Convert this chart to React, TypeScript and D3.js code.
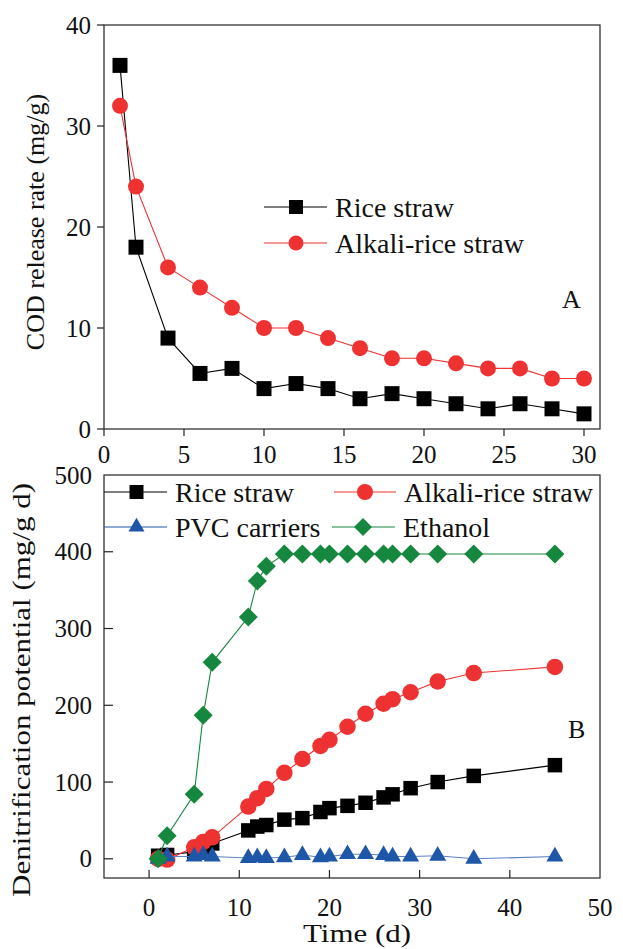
import React from "react";
import * as d3 from "d3";

// ---- Panel A data ----
const daysA = [1, 2, 4, 6, 8, 10, 12, 14, 16, 18, 20, 22, 24, 26, 28, 30];
const riceA = [36, 18, 9, 5.5, 6, 4, 4.5, 4, 3, 3.5, 3, 2.5, 2, 2.5, 2, 1.5];
const alkaliA = [32, 24, 16, 14, 12, 10, 10, 9, 8, 7, 7, 6.5, 6, 6, 5, 5];
const ticksAX = [0, 5, 10, 15, 20, 25, 30];
const ticksAY = [0, 10, 20, 30, 40];

// ---- Panel B data ----
const daysB = [1, 2, 5, 6, 7, 11, 12, 13, 15, 17, 19, 20, 22, 24, 26, 27, 29, 32, 36, 45];
const riceB = [4, 5, 9, 14, 20, 37, 42, 44, 51, 53, 61, 66, 69, 73, 80, 84, 92, 100, 108, 122];
const alkaliB = [0, -1, 15, 22, 28, 68, 79, 91, 112, 130, 147, 155, 172, 189, 202, 208, 217, 231, 242, 250];
const pvcB = [0, 3, 3, 5, 3, 1, 2, 1, 2, 5, 2, 3, 6, 6, 5, 3, 3, 4, 0, 3];
const ethanolB = [0, 30, 84, 187, 256, 315, 362, 381, 397, 397, 397, 397, 397, 397, 397, 397, 397, 397, 397, 397];
const ticksBX = [0, 10, 20, 30, 40, 50];
const ticksBY = [0, 100, 200, 300, 400, 500];

const BLACK = "#000000";
const RED = "#ee3131";
const BLUE = "#1f57a8";
const GREEN = "#16873f";
const FONT = '"Liberation Serif", "Times New Roman", Times, serif';
const TS: React.CSSProperties = { fontFamily: FONT };

type Shape = "square" | "circle" | "triangle" | "diamond";

function Marker({ shape, x, y, s, color }: { shape: Shape; x: number; y: number; s: number; color: string }) {
  let path = "";
  let rot = 0;
  if (shape === "square") path = d3.symbol(d3.symbolSquare, s * s)() as string;
  else if (shape === "circle") path = d3.symbol(d3.symbolCircle, Math.PI * (s / 2) * (s / 2))() as string;
  else if (shape === "triangle") path = d3.symbol(d3.symbolTriangle, (Math.sqrt(3) / 4) * s * s)() as string;
  else {
    path = d3.symbol(d3.symbolSquare, (s / Math.SQRT2) * (s / Math.SQRT2))() as string;
    rot = 45;
  }
  return <path d={path} transform={`translate(${x},${y}) rotate(${rot})`} fill={color} />;
}

function Series({ xs, ys, sx, sy, color, shape, s, lineColor }: any) {
  const line = d3
    .line<number>()
    .x((_, i) => sx(xs[i]))
    .y((v) => sy(v));
  return (
    <g>
      <path d={line(ys) as string} fill="none" stroke={lineColor || color} strokeWidth={1.1} />
      {ys.map((v: number, i: number) => (
        <Marker key={i} shape={shape} x={sx(xs[i])} y={sy(v)} s={s} color={color} />
      ))}
    </g>
  );
}

function LegendItem({ x1, x2, y, mx, tx, color, shape, s, label }: any) {
  return (
    <g>
      <line x1={x1} x2={x2} y1={y} y2={y} stroke={color} strokeWidth={1.1} />
      <Marker shape={shape} x={mx} y={y} s={s} color={color} />
      <text x={tx} y={y + 9.5} fontSize={28} style={TS} fill="#111">
        {label}
      </text>
    </g>
  );
}

export default function App() {
  // Panel A frame
  const aL = 104, aR = 600, aT = 25, aB = 429;
  const sxA = d3.scaleLinear().domain([0, 31]).range([aL, aR]);
  const syA = d3.scaleLinear().domain([0, 40]).range([aB, aT]);

  // Panel B frame
  const bL = 104, bR = 600, bT = 475, bB = 878;
  const sxB = d3.scaleLinear().domain([-5, 50]).range([bL, bR]);
  const syB = d3.scaleLinear().domain([-25, 500]).range([bB, bT]);

  const tickFont = 25;

  return (
    <svg width={623} height={949} style={{ position: "absolute", left: 0, top: 0, background: "#fff", fontFamily: FONT }}>
      <rect x={0} y={0} width={623} height={949} fill="#fff" />

      {/* ---------- Panel A ---------- */}
      <rect x={aL} y={aT} width={aR - aL} height={aB - aT} fill="none" stroke="#222" strokeWidth={1.2} />
      {ticksAX.map((t) => (
        <g key={"ax" + t}>
          <line x1={sxA(t)} x2={sxA(t)} y1={aB} y2={aB + 7} stroke="#222" strokeWidth={1.2} />
          <text x={sxA(t)} y={463} fontSize={tickFont} style={TS} textAnchor="middle" fill="#111">
            {t}
          </text>
        </g>
      ))}
      {ticksAY.map((t) => (
        <g key={"ay" + t}>
          <line x1={aL - 7} x2={aL} y1={syA(t)} y2={syA(t)} stroke="#222" strokeWidth={1.2} />
          <text x={91} y={syA(t) + 8.5} fontSize={tickFont} style={TS} textAnchor="end" fill="#111">
            {t}
          </text>
        </g>
      ))}
      <text transform={`translate(43.5,222) rotate(-90)`} fontSize={26} style={TS} textAnchor="middle" fill="#111">
        COD release rate (mg/g)
      </text>

      <Series xs={daysA} ys={riceA} sx={sxA} sy={syA} color={BLACK} shape="square" s={15} />
      <Series xs={daysA} ys={alkaliA} sx={sxA} sy={syA} color={RED} shape="circle" s={16} />

      <LegendItem x1={264} x2={327} y={207} mx={296} tx={335} color={BLACK} shape="square" s={14} label="Rice straw" />
      <LegendItem x1={264} x2={327} y={243} mx={296} tx={335} color={RED} shape="circle" s={15} label="Alkali-rice straw" />
      <text x={562} y={308} fontSize={26} style={TS} fill="#111">
        A
      </text>

      {/* ---------- Panel B ---------- */}
      <rect x={bL} y={bT} width={bR - bL} height={bB - bT} fill="none" stroke="#222" strokeWidth={1.2} />
      {ticksBX.map((t) => (
        <g key={"bx" + t}>
          {t < 50 && <line x1={sxB(t)} x2={sxB(t)} y1={bB} y2={bB - 8} stroke="#222" strokeWidth={1.2} />}
          <text x={sxB(t)} y={915.5} fontSize={tickFont} style={TS} textAnchor="middle" fill="#111">
            {t}
          </text>
        </g>
      ))}
      {ticksBY.map((t) => (
        <g key={"by" + t}>
          {t < 500 && <line x1={bL} x2={bL + 9} y1={syB(t)} y2={syB(t)} stroke="#222" strokeWidth={1.2} />}
          <text x={92} y={syB(t) + 8.5} fontSize={tickFont} style={TS} textAnchor="end" fill="#111">
            {t}
          </text>
        </g>
      ))}
      <text
        transform={`translate(30,690) rotate(-90)`}
        fontSize={26}
        style={TS}
        textAnchor="middle"
        fill="#111"
        textLength={414}
        lengthAdjust="spacingAndGlyphs"
      >
        Denitrification potential (mg/g d)
      </text>
      <text x={357} y={942} fontSize={26} style={TS} textAnchor="middle" fill="#111" textLength={108} lengthAdjust="spacingAndGlyphs">
        Time (d)
      </text>

      <Series xs={daysB} ys={riceB} sx={sxB} sy={syB} color={BLACK} shape="square" s={14.5} />
      <Series xs={daysB} ys={alkaliB} sx={sxB} sy={syB} color={RED} shape="circle" s={16.5} />
      <Series xs={daysB} ys={pvcB} sx={sxB} sy={syB} color={BLUE} shape="triangle" s={17} lineColor="#5b82c4" />
      <Series xs={daysB} ys={ethanolB} sx={sxB} sy={syB} color={GREEN} shape="diamond" s={19} />

      <LegendItem x1={104} x2={167} y={492} mx={136.5} tx={175} color={BLACK} shape="square" s={14} label="Rice straw" />
      <LegendItem x1={334} x2={396} y={492} mx={365} tx={404} color={RED} shape="circle" s={16} label="Alkali-rice straw" />
      <LegendItem x1={104} x2={167} y={527} mx={136.5} tx={175} color={BLUE} shape="triangle" s={16} label="PVC carriers" />
      <LegendItem x1={332} x2={395} y={527} mx={363} tx={403} color={GREEN} shape="diamond" s={18} label="Ethanol" />
      <text x={568} y={738} fontSize={26} style={TS} fill="#111">
        B
      </text>
    </svg>
  );
}
